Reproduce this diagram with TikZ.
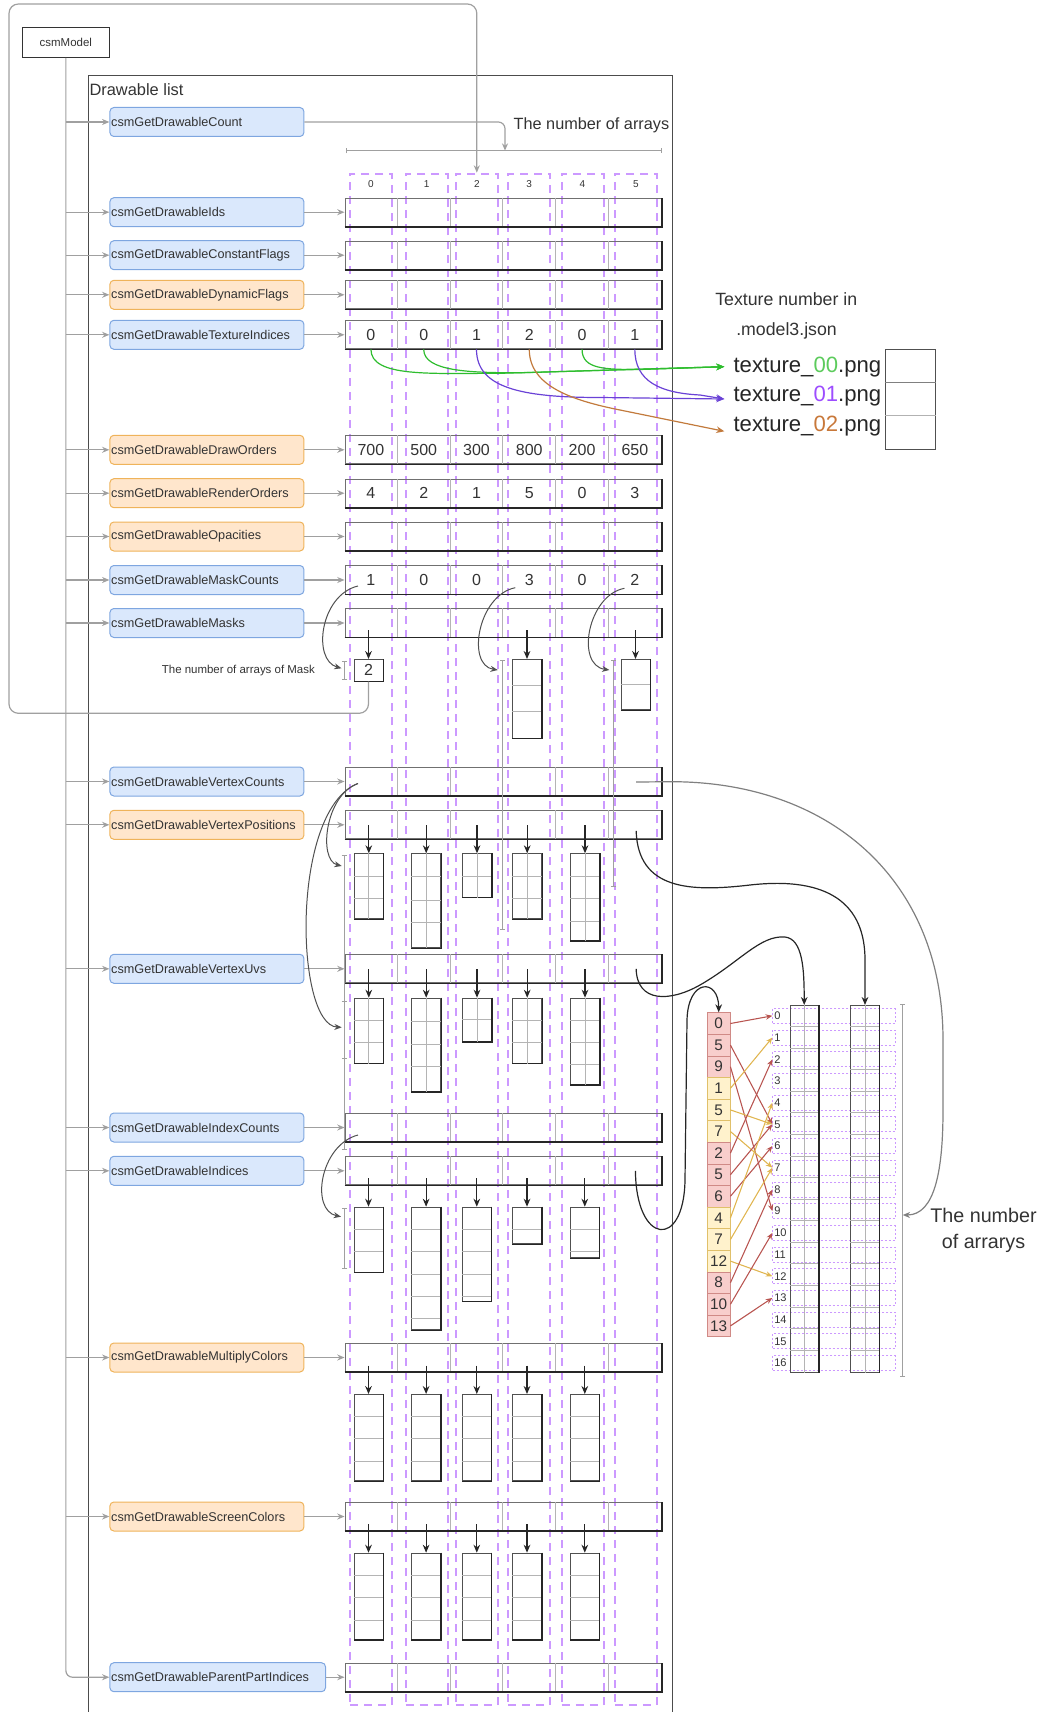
\documentclass[tikz,border=0pt]{standalone}
\usepackage{fontspec}
\setmainfont{Liberation Sans}
\usetikzlibrary{arrows.meta,calc}
\definecolor{bluefill}{HTML}{DAE8FC}
\definecolor{bluedraw}{HTML}{7EA6E0}
\definecolor{orfill}{HTML}{FFE6CC}
\definecolor{ordraw}{HTML}{EFB35A}
\colorlet{ffillb}{bluefill}\colorlet{fdrawb}{bluedraw}
\colorlet{ffillo}{orfill}\colorlet{fdrawo}{ordraw}
\definecolor{purp}{HTML}{CC99FF}
\definecolor{gline}{HTML}{A0A0A0}
\definecolor{idxfillr}{HTML}{F8CECC}
\definecolor{idxdrawr}{HTML}{D08A86}
\definecolor{idxfilly}{HTML}{FFF2CC}
\definecolor{idxdrawy}{HTML}{E0C06A}
\definecolor{idxarrr}{HTML}{B85450}
\definecolor{idxarry}{HTML}{E0B54F}
\definecolor{txt}{HTML}{333333}
\definecolor{tgreen}{HTML}{2EBD2E}
\definecolor{tgreentxt}{HTML}{5CCB5C}
\definecolor{tpurple}{HTML}{6A42D6}
\definecolor{tpurpletxt}{HTML}{9D4DFF}
\definecolor{tbrown}{HTML}{C27A3C}
\definecolor{tbrowntxt}{HTML}{C8783A}
\definecolor{dgray}{HTML}{505050}
\definecolor{rowline}{HTML}{707070}
\definecolor{divline}{HTML}{B4B4B4}

\tikzset{
  fnbox/.style={draw, rounded corners=3pt, text width=143.5pt, inner xsep=1pt, inner ysep=0pt,
    minimum height=21.75pt, align=left, anchor=west, font=\fontsize{9.5}{11.4}\selectfont, text=txt, line width=0.75pt},
  gconn/.style={draw=gline, line width=0.9pt, -{Stealth[length=5.5pt,width=4.5pt]}},
  bconn/.style={draw=black!85, line width=0.9pt, -{Stealth[length=6pt,width=5pt]}},
  dconn/.style={draw=dgray, line width=0.75pt, -{Stealth[length=5.5pt,width=4.5pt]}},
  rowbox/.style={draw=rowline, line width=0.7pt, minimum width=237.5pt, minimum height=21.2pt, inner sep=0pt},
  rowshadow/.style={draw=black!85, line width=1.3pt},
  celldiv/.style={draw=divline, line width=0.6pt},
  val/.style={font=\fontsize{12}{14}\selectfont, text=txt, inner sep=0pt},
  colbox/.style={draw=purp, line width=1.5pt, dash pattern=on 6pt off 4.5pt, minimum width=31.5pt, minimum height=1148.5pt, anchor=north, inner sep=0pt},
  collab/.style={font=\fontsize{7.5}{9}\selectfont, text=txt, inner sep=0pt},
  arr/.style={draw=dgray, line width=0.7pt, minimum width=21.75pt, inner sep=0pt, anchor=north},
  arrdiv/.style={draw=divline, line width=0.6pt},
  arrshadow/.style={draw=black!85, line width=1pt},
  dimln/.style={draw=gline, line width=0.7pt, {Bar[width=4pt]}-{Bar[width=4pt]}},
  idxcell/.style={minimum width=17pt, minimum height=16.2pt, inner sep=0pt, line width=0.6pt, font=\fontsize{11.5}{13}\selectfont, text=txt},
  lblbox/.style={draw=purp, line width=0.5pt, dash pattern=on 1.5pt off 1.5pt, minimum width=91.7pt, minimum height=11.25pt, inner sep=0pt},
  lbltxt/.style={font=\fontsize{8.3}{10}\selectfont, text=txt, inner sep=0pt, anchor=west},
  tall/.style={draw=dgray, line width=0.7pt, minimum width=21.3pt, minimum height=275pt, inner sep=0pt, anchor=north},
  tex/.style={anchor=west, inner xsep=6.75pt, inner ysep=0pt, font=\fontsize{16.6}{19}\selectfont, text=black!85},
  plain/.style={anchor=west, inner sep=0pt, text=txt},
  tcg/.style={draw=tgreen, line width=0.9pt, -{Stealth[length=6pt,width=5pt]}},
  tcp/.style={draw=tpurple, line width=0.9pt, -{Stealth[length=6pt,width=5pt]}},
  tcb/.style={draw=tbrown, line width=0.9pt, -{Stealth[length=6pt,width=5pt]}},
}
\newcommand{\arrbox}[5]{%
  \node[arr, minimum height=#4*0.75pt] (#1) at (#2,#3) {};
  \foreach \d in {#5}{\draw[arrdiv] ($(#1.north west)+(0,\d)$) -- ($(#1.north east)+(0,\d)$);}
  \draw[arrshadow] (#1.north east) -- (#1.south east) -- (#1.south west);
}
\newcommand{\arrboxII}[5]{\arrbox{#1}{#2}{#3}{#4}{#5}\draw[arrdiv] (#1.north) -- (#1.south);}

\begin{document}
\begin{tikzpicture}[x=0.75pt,y=-0.75pt]
\useasboundingbox (0,0) rectangle (1043,1712);

% purple dashed columns
\foreach \c [count=\k from 0] in {371,426.7,476.8,529.2,582.5,635.8}{
  \node[colbox] (col\k) at (\c,172.7) {};
  \node[collab] (cl\k) at (\c,184.3) {\k};
}

% Drawable list frame
\draw[draw=black!70, line width=0.75pt] (88,1712) -- (88,76) -- (672,76) -- (672,1712);
\node[plain, font=\fontsize{12.3}{14}\selectfont] (dl) at (89.3,90) {Drawable list};

% csmModel
\node[draw=black!80, line width=0.75pt, minimum width=65.3pt, minimum height=22.2pt, inner sep=0pt,
  font=\fontsize{8.6}{10}\selectfont, text=txt] (cm) at (65.85,42.5) {csmModel};

% function boxes
\foreach \n/\y/\nm/\c in {1/122/Count/b,2/212.2/Ids/b,3/255.2/ConstantFlags/b,4/294.8/DynamicFlags/o,
  5/334.8/TextureIndices/b,6/449.8/DrawOrders/o,7/493.2/RenderOrders/o,8/536.5/Opacities/o,
  9/580/MaskCounts/b,10/623/Masks/b,11/781.5/VertexCounts/b,12/824.8/VertexPositions/o,
  13/968.8/VertexUvs/b,14/1127.5/IndexCounts/b,15/1170.8/Indices/b,16/1357.5/MultiplyColors/o,
  17/1516.5/ScreenColors/o}{
  \node[fnbox, fill=ffill\c, draw=fdraw\c] (f\n) at (109.4,\y) {csmGetDrawable\nm};
}
\node[fnbox, fill=bluefill, draw=bluedraw, text width=159.7pt] (f18) at (109.4,1677.2) {csmGetDrawableParentPartIndices};

% csmModel stem and branches
\draw[gconn, rounded corners=5pt] (cm.south) |- (f18.west);
\foreach \n in {1,...,17}{\draw[gconn] (cm.south |- f\n.west) -- (f\n.west);}

% rows
\foreach \n/\y in {2/212.2,3/255.2,4/294.8,5/334.8,6/449.8,7/493.2,8/536.5,9/580,10/623,
  11/781.5,12/824.8,13/968.8,14/1127.5,15/1170.8,16/1357.5,17/1516.5,18/1677.2}{
  \node[rowbox] (r\n) at (503.35,\y) {};
  \foreach \i in {1,...,5}{
    \draw[celldiv] ($(r\n.north west)+({\i*52.78},0)$) -- ($(r\n.south west)+({\i*52.78},0)$);
  }
  \draw[rowshadow] (r\n.south west) -- (r\n.south east) -- (r\n.north east);
  \foreach \i in {0,...,5}{\coordinate (r\n-\i) at ($(r\n.west)+({26.39+\i*52.78},0)$);}
  \draw[gconn] (f\n.east) -- (r\n.west);
}
\foreach \v [count=\i from 0] in {0,0,1,2,0,1}{\node[val] (va\i) at (r5-\i) {\v};}
\foreach \v [count=\i from 0] in {700,500,300,800,200,650}{\node[val] (vb\i) at (r6-\i) {\v};}
\foreach \v [count=\i from 0] in {4,2,1,5,0,3}{\node[val] (vc\i) at (r7-\i) {\v};}
\foreach \v [count=\i from 0] in {1,0,0,3,0,2}{\node[val] (vd\i) at (r9-\i) {\v};}

% count connector and dimension
\coordinate (dimL) at (346,150.7); \coordinate (dimR) at (662,150.7);
\draw[dimln] (dimL) -- (dimR);
\coordinate (cntEnd) at (505,150.7);
\draw[gconn, rounded corners=5pt] (f1.east) -| (cntEnd);
\node[plain, font=\fontsize{12.2}{14}\selectfont] (numarr) at (513.4,125) {The number of arrays};

% texture part
\node[plain, font=\fontsize{13.3}{15}\selectfont] (th1) at (715,299.3) {Texture number in};
\node[plain, font=\fontsize{13.3}{15}\selectfont] (th2) at (736,331) {.model3.json};
\node[tex] (t0) at (724.3,366.7) {texture\_\textcolor{tgreentxt}{00}.png};
\node[tex] (t1) at (724.3,396) {texture\_\textcolor{tpurpletxt}{01}.png};
\node[tex] (t2) at (724.3,425.7) {texture\_\textcolor{tbrowntxt}{02}.png};
\node[draw=dgray, line width=0.75pt, minimum width=38pt, minimum height=75.5pt, inner sep=0pt] (tbox) at (910.35,399.65) {};
\draw[draw=gray, line width=0.6pt] ($(tbox.north west)+(0,33.4)$) -- ($(tbox.north east)+(0,33.4)$);
\draw[draw=gray!60, line width=0.6pt] ($(tbox.north west)+(0,66.4)$) -- ($(tbox.north east)+(0,66.4)$);
\draw[tcg] (r5-0 |- r5.south) .. controls +(0,28) and +(-70,0) .. (500,373.3) -- (t0.west);
\draw[tcg] (r5-1 |- r5.south) .. controls +(0,22) and +(-50,0) .. (520,372.8) -- (t0.west);
\draw[tcg] (r5-4 |- r5.south) .. controls +(0,20) and +(-35,0) .. (640,369.5) -- (t0.west);
\draw[tcp] (r5-2 |- r5.south) .. controls +(0,38) and +(-80,0) .. (600,397.5) -- ($(t1.west)+(0,3)$);
\draw[tcp] (r5-5 |- r5.south) .. controls +(0,32) and +(-40,-2) .. (700,395) -- ($(t1.west)+(0,3)$);
\draw[tcb] (r5-3 |- r5.south) .. controls +(0,36) and +(-50,-10) .. (620,410) -- ($(t2.west)+(0,5.6)$);

% masks
\node[arr, minimum height=16.3pt, font=\fontsize{12}{14}\selectfont, text=txt] (m0) at (368.5,659) {2};
\draw[arrshadow] (m0.north east) -- (m0.south east) -- (m0.south west);
\arrbox{m3}{527}{659}{78.7}{26.2,52.5}
\arrbox{m5}{635.5}{659}{50.3}{25}
\foreach \m in {m0,m3,m5}{\draw[bconn] ($(\m.north)+(0,-29)$) -- (\m.north);}
\draw[dimln] (344.6,660.7) -- (344.6,680);
\draw[dimln] (502.2,660) -- (502.2,930);
\draw[dimln] (613.8,660) -- (613.8,887);
\node[plain, font=\fontsize{8.6}{10}\selectfont] (mlab) at (161.6,670.7) {The number of arrays of Mask};
\draw[dconn] ($(r9-0)+(-13,6)$) .. controls (320,595) and (312,660) .. (341.5,668.3);
\draw[dconn] ($(r9-3)+(-14,7.7)$) .. controls (478,595) and (466,665) .. (497.8,670);
\draw[dconn] ($(r9-5)+(-10.4,8.3)$) .. controls (588,595) and (575,665) .. (609.4,670);

% outer loop from mask box to column 2
\draw[gconn, rounded corners=7pt] (m0.south) |- (9,713.3) -- (9,4) -| (col2.north);

% vertex positions
\arrboxII{vp0}{368.8}{853.3}{65}{22.7,45}
\arrboxII{vp1}{426.2}{853.3}{94}{22.7,46.7,69}
\arrboxII{vp2}{477}{853.3}{43.4}{22.7}
\arrboxII{vp3}{527.2}{853.3}{65}{22.7,45}
\arrboxII{vp4}{585}{853.3}{86.7}{22.7,45,67.7}
\foreach \m in {vp0,vp1,vp2,vp3,vp4}{\draw[bconn] ($(\m.north)+(0,-28.3)$) -- (\m.north);}
% vertex uvs
\arrboxII{vu0}{368.8}{997.7}{65}{23,45}
\arrboxII{vu1}{426.2}{997.7}{93.3}{24,46.3,69}
\arrboxII{vu2}{477}{997.7}{43.3}{22}
\arrboxII{vu3}{527.2}{997.7}{65}{23,45}
\arrboxII{vu4}{585}{997.7}{86.3}{22.7,45,67}
\foreach \m in {vu0,vu1,vu2,vu3,vu4}{\draw[bconn] ($(\m.north)+(0,-28.7)$) -- (\m.north);}
\draw[dimln] (344.3,855) -- (344.3,1059);
\draw[dimln] (344.3,1001) -- (344.3,1150);
\draw[dconn] ($(r11-0)+(-13,2)$) .. controls (325,795) and (318,860) .. (341.7,866);
\draw[dconn] ($(r11-0)+(-13,2)$) .. controls (290,810) and (295,1025) .. (341.7,1027.3);

% indices
\arrbox{ia0}{368.5}{1206.7}{65}{22.6,45}
\arrbox{ia1}{426.1}{1206.7}{122.6}{22.6,45,67.3,89.6,112}
\arrbox{ia2}{476.8}{1206.7}{94}{22.6,45,67.3,89.6}
\arrbox{ia3}{527}{1206.7}{36.6}{22.6}
\arrbox{ia4}{584.8}{1206.7}{50.6}{22.6,45}
\foreach \m in {ia0,ia1,ia2,ia3,ia4}{\draw[bconn] ($(\m.north)+(0,-28.4)$) -- (\m.north);}
\draw[dimln] (344.6,1208.3) -- (344.6,1269);
\draw[dconn] ($(r14-0)+(-13,7.5)$) .. controls (320,1145) and (310,1210) .. (341,1216.7);

% multiply / screen colors
\foreach \k/\c in {0/368.5,1/426.1,2/476.8,3/527,4/584.8}{
  \arrbox{mc\k}{\c}{1394}{86.3}{22.7,44.3,67.3}
  \draw[bconn] ($(mc\k.north)+(0,-28.3)$) -- (mc\k.north);
  \arrbox{sc\k}{\c}{1552.7}{86.3}{22.3,44.6,67.3}
  \draw[bconn] ($(sc\k.north)+(0,-28.7)$) -- (sc\k.north);
}

% vertex label boxes
\foreach \k in {0,...,16}{
  \node[lblbox] (lb\k) at (833.85,{1015.8+21.7*\k}) {};
  \node[lbltxt] (lt\k) at (774,{1015.8+21.7*\k}) {\k};
}
% tall vertex arrays
\node[tall] (tb1) at (804.2,1005) {};
\node[tall] (tb2) at (865,1005) {};
\foreach \t in {tb1,tb2}{
  \foreach \k in {1,...,16}{\draw[arrdiv] ($(\t.north west)+(0,{21.57*\k})$) -- ($(\t.north east)+(0,{21.57*\k})$);}
  \draw[arrdiv] (\t.north) -- (\t.south);
  \draw[arrshadow] (\t.north east) -- (\t.south east);
}
% index list
\foreach \v/\c [count=\i from 0] in {0/r,5/r,9/r,1/y,5/y,7/y,2/r,5/r,6/r,4/y,7/y,12/y,8/r,10/r,13/r}{
  \node[idxcell, fill=idxfill\c, draw=idxdraw\c] (il\i) at (718.7,{1023.5+21.6*\i}) {\v};
}
\foreach \v/\c [count=\i from 0] in {0/r,5/r,9/r,1/y,5/y,7/y,2/r,5/r,6/r,4/y,7/y,12/y,8/r,10/r,13/r}{
  \draw[draw=idxarr\c, line width=0.8pt, -{Stealth[length=5pt,width=4pt]}] (il\i.east) -- (lb\v.west);
}
% right dimension
\coordinate (rdA) at (902.7,1004); \coordinate (rdB) at (902.7,1376.7); \coordinate (rdM) at (902.7,1215);
\draw[dimln] (rdA) -- (rdB);
\node[align=center, inner sep=0pt, font=\fontsize{14.8}{19.5}\selectfont, text=txt] (tnum) at (983.5,1230.3) {The number\\of arrarys};

% long connectors
\draw[gconn, draw=gray] ($(r11-5)+(1.3,0.5)$) -- (672,781.7) .. controls (830,782) and (943,880) .. (943,1040) -- (943,1110) .. controls (943,1170) and (935,1215) .. (rdM);
\draw[bconn] ($(r12-5)+(1.3,6)$) .. controls (638,890) and (690,892) .. (750,885) .. controls (830,876) and (865,905) .. (865,960) -- (tb2.north);
\draw[bconn] ($(r13-5)+(1.3,0)$) .. controls (637,1003) and (670,1002) .. (700,985) .. controls (740,962) and (760,935) .. (785,937) .. controls (803,939) and (804.2,970) .. (tb1.north);
\draw[bconn] ($(r15-5)+(0.6,0)$) .. controls (636,1245) and (684,1250) .. (685,1180) -- (687,1020) .. controls (688,978) and (718.7,978) .. (il0.north);

\end{tikzpicture}
\end{document}
